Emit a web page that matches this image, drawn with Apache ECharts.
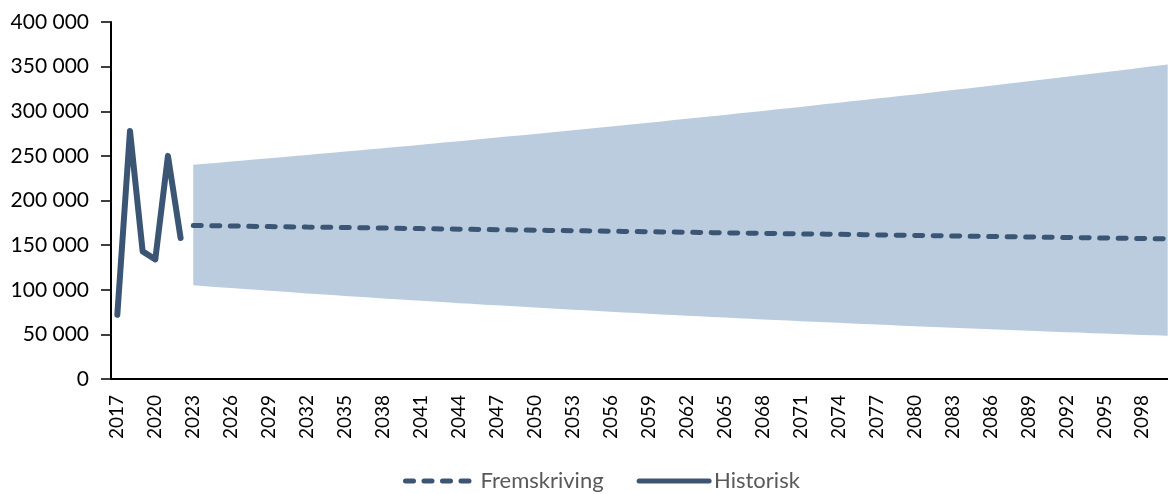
<!DOCTYPE html>
<html>
<head>
<meta charset="utf-8">
<script src="https://cdn.jsdelivr.net/npm/echarts@6/dist/echarts.min.js"></script>
<style>
  html, body { margin: 0; padding: 0; background: #fff; }
  #chart { width: 1168px; height: 494px; }
</style>
</head>
<body>
<div id="chart"></div>
<script>
// years 2017..2100
var years = [];
for (var y = 2017; y <= 2100; y++) years.push(String(y));

// historic values 2017-2022
var historisk = [72000, 278000, 143000, 134000, 250000, 158000];

// projection (median) 2023-2100
var fremskriving = [
  172000, 171800, 171600, 171400, 171200, 171000, 170800, 170600, 170400, 170200,
  170100, 169900, 169700, 169500, 169300, 169100, 168900, 168700, 168500, 168300,
  168100, 167900, 167700, 167500, 167300, 167100, 166900, 166700, 166500, 166300,
  166200, 166000, 165800, 165600, 165400, 165200, 165000, 164800, 164600, 164400,
  164200, 164000, 163800, 163600, 163400, 163200, 163000, 162800, 162600, 162400,
  162300, 162100, 161900, 161700, 161500, 161300, 161100, 160900, 160700, 160500,
  160300, 160100, 159900, 159700, 159500, 159300, 159100, 158900, 158700, 158500,
  158400, 158200, 158000, 157800, 157600, 157400, 157200, 157000
];

// uncertainty band 2023-2100
var bandUpper = [
  240000, 241200, 242400, 243600, 244800, 246100, 247300, 248500, 249800, 251000,
  252300, 253500, 254800, 256100, 257400, 258600, 259900, 261200, 262500, 263900,
  265200, 266500, 267800, 269200, 270500, 271900, 273200, 274600, 276000, 277300,
  278700, 280100, 281500, 282900, 284400, 285800, 287200, 288600, 290100, 291500,
  293000, 294500, 295900, 297400, 298900, 300400, 301900, 303400, 304900, 306400,
  308000, 309500, 311100, 312600, 314200, 315800, 317300, 318900, 320500, 322100,
  323700, 325300, 327000, 328600, 330200, 331900, 333600, 335200, 336900, 338600,
  340300, 342000, 343700, 345400, 347100, 348900, 350600, 352400
];
var bandLower = [
  105000, 104000, 102900, 101900, 100900, 99900, 98900, 97900, 96900, 95900,
  95000, 94000, 93100, 92100, 91200, 90300, 89400, 88500, 87600, 86700,
  85900, 85000, 84200, 83300, 82500, 81700, 80900, 80000, 79200, 78500,
  77700, 76900, 76100, 75400, 74600, 73900, 73100, 72400, 71700, 71000,
  70200, 69500, 68800, 68200, 67500, 66800, 66100, 65500, 64800, 64200,
  63500, 62900, 62300, 61600, 61000, 60400, 59800, 59200, 58600, 58000,
  57500, 56900, 56300, 55700, 55200, 54600, 54100, 53500, 53000, 52500,
  52000, 51400, 50900, 50400, 49900, 49400, 48900, 48400
];

var nHist = historisk.length;
function pad(arr, before) {
  var out = [];
  for (var i = 0; i < before; i++) out.push(null);
  out = out.concat(arr);
  while (out.length < years.length) out.push(null);
  return out;
}
var bandDiff = bandUpper.map(function (v, i) { return v - bandLower[i]; });

var lineColor = '#3b5674';
var bandColor = '#bbccde';
var font = 'Lato, "Open Sans", sans-serif';

var chart = echarts.init(document.getElementById('chart'));
chart.setOption({
  animation: false,
  textStyle: { fontFamily: font },
  grid: {
    left: 111, right: -6, top: 22, bottom: 115,
    containLabel: false,
    outerBoundsMode: 'none'
  },
  legend: {
    data: ['Fremskriving', 'Historisk'],
    left: 403,
    top: 470,
    padding: 0,
    itemWidth: 70,
    itemHeight: 24,
    itemGap: 33,
    itemStyle: { opacity: 0 },
    lineStyle: { width: 5 },
    textStyle: { color: '#595959', fontSize: 22, fontFamily: font }
  },
  xAxis: {
    type: 'category',
    data: years,
    boundaryGap: true,
    axisLine: { lineStyle: { color: '#000', width: 2 } },
    axisTick: { show: false },
    axisLabel: {
      interval: 2,
      rotate: 90,
      margin: 16,
      color: '#000',
      fontSize: 19,
      fontFamily: font
    },
    splitLine: { show: false }
  },
  yAxis: {
    type: 'value',
    min: 0,
    max: 400000,
    interval: 50000,
    axisLine: { show: true, lineStyle: { color: '#000', width: 2 } },
    axisTick: { show: true, length: 10, lineStyle: { color: '#000', width: 1.5 } },
    axisLabel: {
      margin: 22,
      color: '#000',
      fontSize: 21,
      fontFamily: font,
      formatter: function (v) {
        return String(v).replace(/\B(?=(\d{3})+(?!\d))/g, ' ');
      }
    },
    splitLine: { show: false }
  },
  series: [
    {
      name: 'bandLower',
      type: 'line',
      stack: 'band',
      data: pad(bandLower, nHist),
      symbol: 'none',
      lineStyle: { opacity: 0 },
      areaStyle: { opacity: 0 },
      silent: true
    },
    {
      name: 'bandDiff',
      type: 'line',
      stack: 'band',
      data: pad(bandDiff, nHist),
      symbol: 'none',
      lineStyle: { opacity: 0 },
      areaStyle: { color: bandColor, opacity: 1 },
      silent: true
    },
    {
      name: 'Historisk',
      type: 'line',
      data: pad(historisk, 0),
      symbol: 'none',
      color: lineColor,
      lineStyle: { color: lineColor, width: 6, cap: 'round', join: 'round' }
    },
    {
      name: 'Fremskriving',
      type: 'line',
      data: pad(fremskriving, nHist),
      symbol: 'none',
      color: lineColor,
      lineStyle: { color: lineColor, width: 5, type: [8, 10.5], cap: 'round' }
    }
  ]
});
</script>
</body>
</html>
